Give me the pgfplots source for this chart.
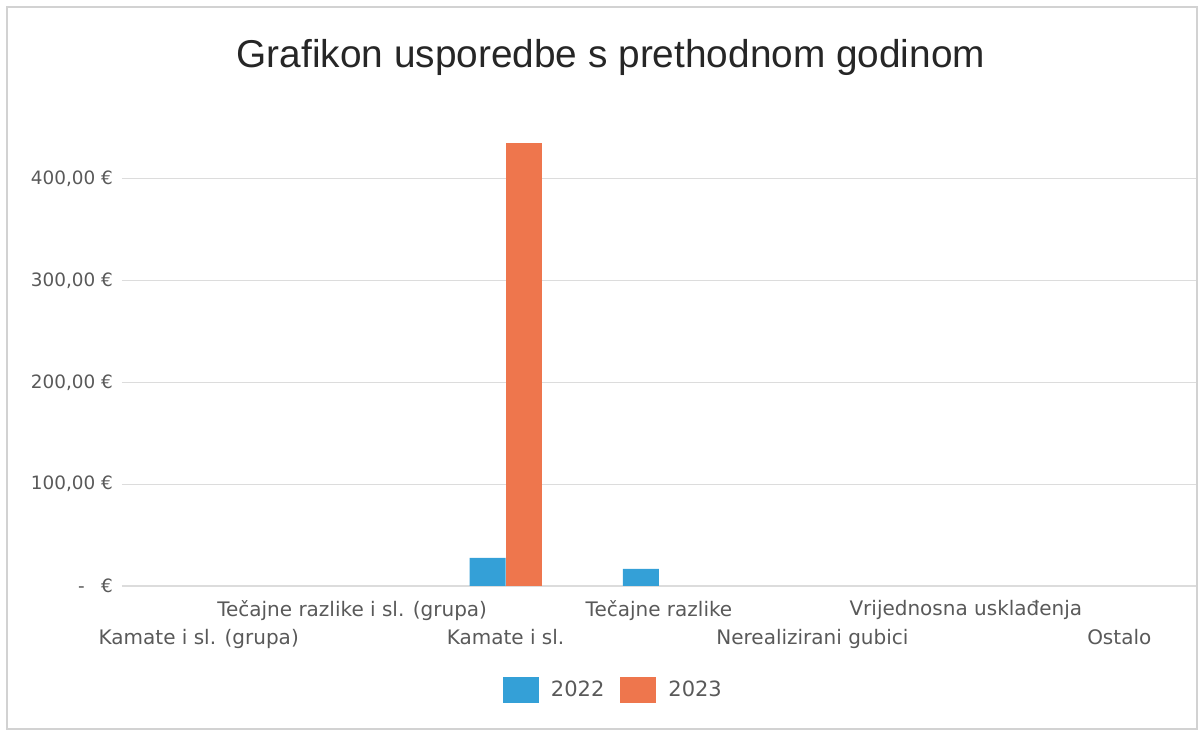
\documentclass[border=0pt]{standalone}
\usepackage{pgfplots}
\pgfplotsset{compat=1.18}
\usepackage{fontspec}
\setmainfont{DejaVu Sans}
\newfontfamily\titlefont{Liberation Sans}
\definecolor{blueA}{RGB}{52,160,215}
\definecolor{orangeA}{RGB}{238,118,77}
\definecolor{txt}{RGB}{89,89,89}
\definecolor{gridc}{RGB}{220,220,220}
\begin{document}
\begin{tikzpicture}
\useasboundingbox (0,0) rectangle (600.5pt,365.5pt);
\draw[gray!35, line width=0.6pt] (3.5pt,1pt) rectangle (598.5pt,362pt);
\node[font=\titlefont\fontsize{19.4}{22}\selectfont, text=black!85] at (305.5pt,337pt) {Grafikon usporedbe s prethodnom godinom};
\begin{axis}[
  at={(61pt,72.5pt)}, anchor=south west,
  scale only axis, width=537pt, height=226.5pt,
  xmin=-0.5, xmax=6.5, ymin=0, ymax=445,
  ybar=0pt, bar width=18pt,
  axis line style={draw=none},
  major tick length=0pt,
  ymajorgrids, grid style={gridc, line width=0.6pt},
  ytick={0,100,200,300,400},
  yticklabels={{-\hspace{0.9em}€},{100,00 €},{200,00 €},{300,00 €},{400,00 €}},
  yticklabel style={font=\fontsize{9.2}{11}\selectfont, text=txt, xshift=-1pt},
  xtick={1,3,5},
  xticklabels={{Tečajne razlike i sl. (grupa)},{Tečajne razlike},{Vrijednosna usklađenja}},
  xticklabel style={font=\fontsize{10}{12}\selectfont, text=txt, yshift=-3.5pt},
  extra x ticks={0,2,4,6},
  extra x tick labels={{Kamate i sl. (grupa)},{Kamate i sl.},{Nerealizirani gubici},{Ostalo}},
  extra x tick style={grid=none, tick label style={yshift=-14.5pt}},
  legend style={draw=none, fill=none, at={(0.4585,-0.2296)}, anchor=center,
    legend columns=2, font=\fontsize{10.5}{12}\selectfont, text=txt,
    /tikz/every odd column/.append style={column sep=4pt},
    /tikz/every even column/.append style={column sep=6pt}},
  legend image code/.code={\fill[#1] (0pt,-6.5pt) rectangle (18pt,6.5pt);},
]
\addplot[fill=blueA, draw=none] coordinates {(2,27.5) (3,16.7)};
\addlegendentry{2022}
\addplot[fill=orangeA, draw=none] coordinates {(2,435.6)};
\addlegendentry{2023}
\end{axis}
\end{tikzpicture}
\end{document}
